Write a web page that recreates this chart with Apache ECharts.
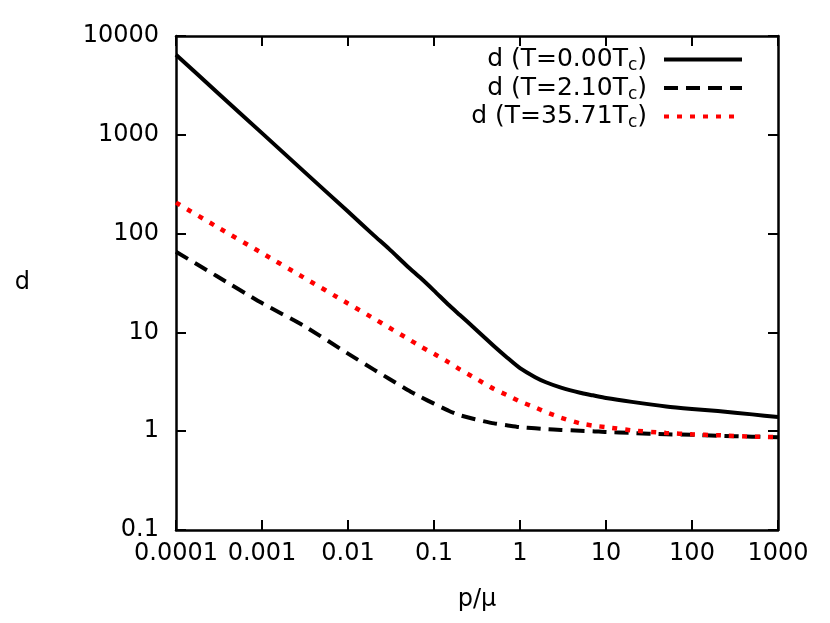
<!DOCTYPE html>
<html>
<head>
<meta charset="utf-8">
<script src="https://cdn.jsdelivr.net/npm/echarts@6/dist/echarts.min.js"></script>
<style>
  html, body { margin: 0; padding: 0; background: #fff; }
  #chart { width: 830px; height: 623px; }
</style>
</head>
<body>
<div id="chart"></div>
<script>
// p/mu sample positions
const pValues = [0.0001, 0.0003, 0.001, 0.003, 0.01, 0.02, 0.03, 0.05, 0.07, 0.1, 0.15, 0.2, 0.3, 0.5, 0.7, 1, 1.5, 2, 3, 5, 7, 10, 20, 50, 100, 200, 500, 1000]
// d for T = 0.00 Tc
const dT000 = [6450, 2700, 1040, 434, 167, 96, 70, 46, 35.5, 26.5, 18.8, 15.0, 10.9, 7.24, 5.61, 4.34, 3.52, 3.13, 2.76, 2.45, 2.31, 2.17, 1.98, 1.78, 1.68, 1.6, 1.48, 1.39]
// d for T = 2.10 Tc
const dT210 = [65.6, 37, 19.8, 11.8, 6.1, 4.2, 3.4, 2.6, 2.22, 1.9, 1.6, 1.45, 1.32, 1.2, 1.15, 1.1, 1.07, 1.05, 1.03, 1.01, 1.0, 0.98, 0.96, 0.93, 0.92, 0.9, 0.88, 0.87]
// d for T = 35.71 Tc
const dT3571 = [206, 117, 63.5, 36.3, 19.6, 13.8, 11.2, 8.6, 7.2, 6.07, 4.95, 4.22, 3.45, 2.67, 2.33, 2.0, 1.74, 1.56, 1.37, 1.2, 1.14, 1.1, 1.02, 0.96, 0.93, 0.91, 0.88, 0.87]
const seriesNames = ['T=0.00T', 'T=2.10T', 'T=35.71T']

const pairs = (ys) => pValues.map((p, i) => [p, ys[i]])
const fontFamily = 'DejaVu Sans'
const fmt = (v) => String(+Number(v).toPrecision(1))

const chart = echarts.init(document.getElementById('chart'))

const sideAxis = (extra) => Object.assign({
  type: 'log',
  logBase: 10,
  axisLine: { show: true, lineStyle: { color: '#000', width: 2.5 } },
  axisTick: { show: true, inside: true, length: 10, lineStyle: { color: '#000', width: 2 } },
  splitLine: { show: false },
  axisLabel: { show: false }
}, extra)

chart.setOption({
  animation: false,
  backgroundColor: '#fff',
  textStyle: { fontFamily: fontFamily, color: '#000' },
  grid: { left: 176, right: 52, top: 36, bottom: 93 },
  legend: {
    orient: 'vertical',
    align: 'right',
    right: 81,
    top: 42,
    itemWidth: 78,
    itemHeight: 14,
    itemGap: 1,
    data: seriesNames,
    itemStyle: { opacity: 0 },
    lineStyle: { width: 4 },
    formatter: (name) => '{n|d (' + name + '}{s|c}{n|)}',
    textStyle: {
      padding: [0, 12, 0, 0],
      rich: {
        n: { fontFamily: fontFamily, fontSize: 25, color: '#000', lineHeight: 30 },
        s: { fontFamily: fontFamily, fontSize: 17, color: '#000', lineHeight: 8, verticalAlign: 'bottom' }
      }
    }
  },
  xAxis: [
    sideAxis({
      position: 'bottom',
      min: 0.0001,
      max: 1000,
      splitNumber: 7,
      name: 'p/\u03bc',
      nameLocation: 'middle',
      nameGap: 58,
      nameTextStyle: { fontFamily: fontFamily, fontSize: 24, color: '#000' },
      axisLabel: { show: true, margin: 12, fontFamily: fontFamily, fontSize: 24, color: '#000', formatter: fmt }
    }),
    sideAxis({ position: 'top', min: 0.0001, max: 1000, splitNumber: 7 })
  ],
  yAxis: [
    sideAxis({
      position: 'left',
      min: 0.1,
      max: 10000,
      splitNumber: 5,
      name: 'd',
      nameLocation: 'middle',
      nameRotate: 0,
      nameGap: 146,
      nameTextStyle: { fontFamily: fontFamily, fontSize: 24, color: '#000' },
      axisLabel: { show: true, margin: 17, fontFamily: fontFamily, fontSize: 24, color: '#000', formatter: fmt }
    }),
    sideAxis({ position: 'right', min: 0.1, max: 10000, splitNumber: 5 })
  ],
  series: [
    {
      name: seriesNames[0],
      type: 'line',
      data: pairs(dT000),
      smooth: 0.2,
      symbol: 'none',
      lineStyle: { color: '#000', width: 4, type: 'solid', join: 'round' },
      itemStyle: { color: '#000' }
    },
    {
      name: seriesNames[1],
      type: 'line',
      data: pairs(dT210),
      smooth: 0.2,
      symbol: 'none',
      lineStyle: { color: '#000', width: 4, type: [14, 8], join: 'round' },
      itemStyle: { color: '#000' }
    },
    {
      name: seriesNames[2],
      type: 'line',
      data: pairs(dT3571),
      smooth: 0.2,
      symbol: 'none',
      lineStyle: { color: '#ff0000', width: 4.5, type: [5, 8] },
      itemStyle: { color: '#ff0000' }
    }
  ]
})
</script>
</body>
</html>
